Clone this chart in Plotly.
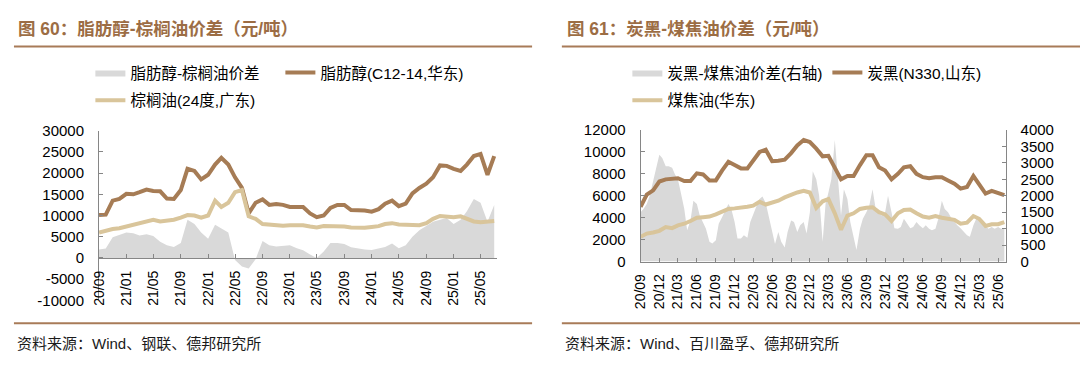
import pandas as pd
import plotly.graph_objects as go

# ---------------- data ----------------
months = pd.date_range("2020-09-01", "2025-07-01", freq="MS")        # monthly, 59 points
half_months = pd.date_range("2020-09-01", "2025-07-01", freq="SMS")  # semi-monthly, 117 points

# Chart 60 (left): fatty alcohol vs palm oil, yuan/ton
fa_palm_spread = [2000, 2200, 4900, 5500, 6000, 5800, 5300, 5600, 5200, 3800,
                  3000, 2600, 3500, 9000, 8000, 6000, 4500, 7800, 7000, 6000,
                  -500, -2000, -2500, -300, 4000, 3000, 2700, 2800, 3000, 2300,
                  1800, 800, 0, 1500, 3500, 3500, 3300, 2500, 2200, 2000,
                  1900, 2200, 2600, 3400, 2300, 3000, 5000, 6500, 7500, 8500,
                  9000, 9400, 8000, 9000, 11000, 13900, 13000, 8500, 12500]
fatty_alcohol = [10100, 10200, 13500, 13900, 15100, 15000, 15500, 16100, 15800, 15700,
                 14000, 13900, 16000, 21000, 20500, 18500, 19600, 22000, 23600, 22000,
                 19000, 16500, 10500, 13000, 13800, 12500, 12700, 12500, 12000, 12000,
                 12000, 10500, 9600, 10000, 11800, 12500, 12500, 11300, 11300, 11200,
                 10900, 11500, 12800, 13500, 12200, 12800, 15200, 16500, 17500, 19000,
                 21800, 21700, 21000, 20500, 22000, 24000, 24500, 19600, 24000]
palm_oil = [6000, 6500, 6800, 7000, 7400, 7800, 8300, 8600, 9000, 8600,
            8800, 9000, 9500, 10100, 10000, 9500, 10000, 13500, 12000, 13000,
            15500, 16000, 9800, 9200, 8000, 7800, 7800, 7600, 7700, 7800,
            7700, 7400, 7200, 7500, 7500, 7400, 7400, 7200, 7100, 7100,
            7300, 7500, 8000, 8200, 7900, 7800, 7800, 7700, 8200, 9200,
            9900, 9700, 9600, 9800, 9300, 8600, 8400, 8500, 8700]

# Chart 61 (right): carbon black vs coal tar, yuan/ton (spread on right axis, semi-monthly)
cb_tar_spread = [1500, 1600, 1750, 2000, 2450, 2800, 3250, 3150, 2900, 2900,
                 2850, 2650, 2500, 2100, 1600, 950, 1250, 1850, 1750, 1400,
                 1200, 1000, 600, 550, 650, 1150, 1350, 1550, 1750, 1600,
                 1200, 700, 700, 800, 720, 1200, 1400, 1650, 1900, 1980,
                 1780, 1400, 900, 530, 900, 600, 430, 900, 1250, 1200,
                 900, 1100, 1200, 850, 1500, 2750, 2500, 2000, 600, 1750,
                 2100, 2500, 3700, 2500, 1400, 2200, 1900, 1200, 700, 350,
                 1000, 1300, 1500, 1700, 2200, 1650, 1450, 1400, 1500, 2000,
                 1500, 1010, 1000, 1050, 1300, 1150, 1010, 1050, 1200, 1100,
                 1010, 1100, 1000, 950, 1000, 1300, 1850, 1600, 1500, 1350,
                 1200, 1100, 1010, 900, 800, 750, 1100, 1300, 1290, 1200,
                 1100, 1000, 1050, 1000, 1050, 1000, 1000]
carbon_black = [5000, 6100, 6500, 7300, 7500, 7600, 7600, 7350, 7350, 8050,
                7950, 7400, 7400, 8300, 9100, 8800, 8500, 8500, 9200, 10000,
                10200, 9150, 9200, 9300, 9900, 10600, 11100, 10900, 10300, 9600,
                9650, 8500, 7500, 7800, 7800, 8800, 9700, 9700, 8600, 8300,
                7500, 8000, 8600, 8700, 8000, 7700, 7600, 7700, 7700, 7400,
                7100, 6650, 6800, 7800, 7000, 6200, 6450, 6200, 6050]
coal_tar = [2250, 2550, 2650, 2800, 3150, 3050, 3300, 3450, 3700, 4000,
            4050, 4100, 4300, 4550, 4800, 4850, 4880, 5000, 5100, 5450,
            5200, 5350, 5550, 5850, 6100, 6300, 6450, 6300, 4900, 5500,
            5700, 4400, 2900, 4200, 4400, 4800, 4900, 4950, 4500, 4300,
            3700, 4400, 4700, 4750, 4400, 4100, 4000, 4150, 4000, 3900,
            3800, 3450, 3550, 4150, 3900, 3250, 3400, 3400, 3600]

left_yticks = [-10000, -5000, 0, 5000, 10000, 15000, 20000, 25000, 30000]
left_yticktext = ["-10000", "-5000", "0", "5000", "10000", "15000", "20000", "25000", "30000"]

left_names = ["脂肪醇-棕榈油价差", "脂肪醇(C12-14,华东)", "棕榈油(24度,广东)"]
right_names = ["炭黑-煤焦油价差(右轴)", "炭黑(N330,山东)", "煤焦油(华东)"]
titles = ["图 60：脂肪醇-棕榈油价差（元/吨）", "图 61：炭黑-煤焦油价差（元/吨）"]
sources = ["资料来源：Wind、钢联、德邦研究所", "资料来源：Wind、百川盈孚、德邦研究所"]

# ---------------- style ----------------
W, H = 1080, 381
GREY = "#d9d9d9"
BROWN = "#a67c55"
TAN = "#d9c59b"
RULE = "#a87b58"
TITLE_C = "#9c6d44"
AXIS_C = "#868686"
FONT = "Liberation Sans, Arial, Noto Sans CJK SC"
CJK = "Liberation Sans, Noto Sans CJK SC"


def px_x(p):
    return p / W


def px_y(p):
    return 1 - p / H


fig = go.Figure()

fig.add_trace(go.Scatter(x=months, y=fa_palm_spread, name=left_names[0], mode="lines",
                         fill="tozeroy", fillcolor=GREY, line=dict(width=0, color=GREY),
                         xaxis="x", yaxis="y", legend="legend"))
fig.add_trace(go.Scatter(x=months, y=fatty_alcohol, name=left_names[1], mode="lines",
                         line=dict(width=4, color=BROWN), xaxis="x", yaxis="y", legend="legend"))
fig.add_trace(go.Scatter(x=months, y=palm_oil, name=left_names[2], mode="lines",
                         line=dict(width=4, color=TAN), xaxis="x", yaxis="y", legend="legend2"))

# right panel: base axis y2 (right side) holds the spread, overlay y3 (left side) holds prices
fig.add_trace(go.Scatter(x=half_months, y=cb_tar_spread, name=right_names[0], mode="lines",
                         fill="tozeroy", fillcolor=GREY, line=dict(width=0, color=GREY),
                         xaxis="x2", yaxis="y2", legend="legend3"))
fig.add_trace(go.Scatter(x=months, y=carbon_black, name=right_names[1], mode="lines",
                         line=dict(width=4, color=BROWN), xaxis="x2", yaxis="y3", legend="legend3"))
fig.add_trace(go.Scatter(x=months, y=coal_tar, name=right_names[2], mode="lines",
                         line=dict(width=4, color=TAN), xaxis="x2", yaxis="y3", legend="legend4"))

xtickfont = dict(family=FONT, size=14, color="#000000")
ytickfont = dict(family=FONT, size=15, color="#000000")
xcommon = dict(type="date", showgrid=False, zeroline=False, showline=True, linecolor=AXIS_C,
               linewidth=1, ticks="inside", ticklen=4, tickcolor=AXIS_C, tickangle=-90,
               tickformat="%y/%m", tickfont=xtickfont, tick0="2020-09-01",
               ticklabelstandoff=6)
ycommon = dict(showgrid=False, zeroline=False, showline=True, linecolor=AXIS_C, linewidth=1,
               ticks="inside", ticklen=4, tickcolor=AXIS_C, tickfont=ytickfont,
               ticklabelstandoff=11, tickformat="d")

fig.update_layout(
    width=W, height=H, margin=dict(l=0, r=0, t=0, b=0),
    paper_bgcolor="white", plot_bgcolor="rgba(0,0,0,0)",
    xaxis=dict(**xcommon, domain=[px_x(91.7), px_x(493)], anchor="free",
               position=px_y(260.7), dtick="M4", range=["2020-09-01", "2025-07-15"]),
    yaxis=dict(**ycommon, domain=[px_y(305), px_y(127.3)], range=[-10000, 30000],
               tickmode="array", tickvals=left_yticks, ticktext=left_yticktext, anchor="x"),
    xaxis2=dict(**xcommon, domain=[px_x(637.3), px_x(1005)], anchor="y2", dtick="M3",
                range=["2020-09-01", "2025-07-07"]),
    yaxis2=dict(**ycommon, domain=[px_y(264.3), px_y(126.7)], range=[0, 4000], dtick=500,
                side="right", anchor="x2"),
    yaxis3=dict(**ycommon, range=[0, 12000], dtick=2000, overlaying="y2", side="left",
                anchor="x2"),
    showlegend=True,
)

legend_common = dict(orientation="h", xanchor="left", yanchor="middle",
                     bgcolor="rgba(0,0,0,0)", borderwidth=0,
                     font=dict(family=CJK, size=15.5, color="#000000"),
                     itemwidth=30, tracegroupgap=0)
fig.update_layout(
    legend=dict(**legend_common, x=px_x(83), y=px_y(67), entrywidth=145),
    legend2=dict(**legend_common, x=px_x(83), y=px_y(96)),
    legend3=dict(**legend_common, x=px_x(624), y=px_y(67), entrywidth=155),
    legend4=dict(**legend_common, x=px_x(624), y=px_y(96)),
)

shapes = []
for x0, x1 in [(6, 528), (558, 1080)]:
    for yy in (39.3, 329):
        shapes.append(dict(type="line", xref="paper", yref="paper",
                           x0=px_x(x0), x1=px_x(x1), y0=px_y(yy), y1=px_y(yy),
                           line=dict(color=RULE, width=2)))
fig.update_layout(shapes=shapes)

for i, x0 in enumerate([8.5, 561]):
    fig.add_annotation(text="<b>" + titles[i] + "</b>", xref="paper", yref="paper",
                       x=px_x(x0), y=px_y(21), xanchor="left", yanchor="middle",
                       showarrow=False, font=dict(family=CJK, size=17.5, color=TITLE_C))
for i, x0 in enumerate([7, 559]):
    fig.add_annotation(text=sources[i], xref="paper", yref="paper",
                       x=px_x(x0), y=px_y(350), xanchor="left", yanchor="middle",
                       showarrow=False, font=dict(family=CJK, size=15, color="#1a1a1a"))

fig.write_html("out.html", config={"displayModeBar": False},
               post_script="document.body.style.margin='0px';")
